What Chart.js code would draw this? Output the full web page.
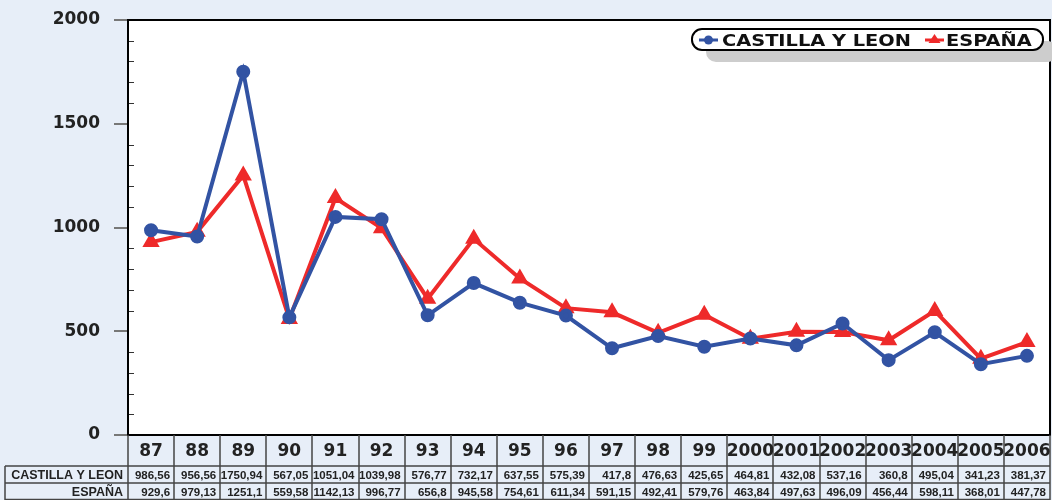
<!DOCTYPE html>
<html>
<head>
<meta charset="utf-8">
<script src="https://cdn.jsdelivr.net/npm/chart.js@4/dist/chart.umd.min.js"></script>
<style>
  html, body { margin: 0; padding: 0; background: #e7eef8; overflow: hidden; }
  #wrap { width: 1052px; height: 500px; position: relative; }
</style>
</head>
<body>
<div id="wrap"><canvas id="grafico"></canvas></div>
<script>
// Datos
const anios = ["87", "88", "89", "90", "91", "92", "93", "94", "95", "96", "97", "98", "99", "2000", "2001", "2002", "2003", "2004", "2005", "2006"];
const castillaLeon = [986.56, 956.56, 1750.94, 567.05, 1051.04, 1039.98, 576.77, 732.17, 637.55, 575.39, 417.8, 476.63, 425.65, 464.81, 432.08, 537.16, 360.8, 495.04, 341.23, 381.37];
const espana = [929.6, 979.13, 1251.1, 559.58, 1142.13, 996.77, 656.8, 945.58, 754.61, 611.34, 591.15, 492.41, 579.76, 463.84, 497.63, 496.09, 456.44, 598.11, 368.01, 447.78];
const ticksY = [0, 500, 1000, 1500, 2000];

const FUENTE = "'Liberation Sans', Arial, sans-serif";
const FUENTE_ANCHA = "'DejaVu Sans', Verdana, sans-serif";
const AZUL = "#3253a3";
const ROJO = "#ee2a2a";

// formato con coma decimal, como en la tabla original
function formato(v) {
  return String(v).replace(".", ",");
}

// texto estirado en horizontal (la leyenda original es muy ancha)
function textoAncho(ctx, txt, x, y, factor) {
  ctx.save();
  ctx.translate(x, y);
  ctx.scale(factor, 1);
  ctx.fillText(txt, 0, 0);
  ctx.restore();
}

// Marco del area, ticks menores, tabla de datos y leyenda
const extras = {
  id: "extras",
  beforeDraw(chart) {
    const area = chart.chartArea;
    const ctx = chart.ctx;
    ctx.save();
    ctx.fillStyle = "#fff";
    ctx.fillRect(area.left, area.top, area.right - area.left, area.bottom - area.top);
    ctx.restore();
  },
  afterDraw(chart) {
    const ctx = chart.ctx;
    const area = chart.chartArea;
    const x = chart.scales.x;
    const y = chart.scales.y;
    const ancho = (area.right - area.left) / anios.length;

    ctx.save();
    // ticks menores hacia dentro
    ctx.strokeStyle = "#333";
    ctx.lineWidth = 1;
    for (let v = 100; v < 2000; v += 100) {
      if (v % 500 === 0) continue;
      const py = Math.round(y.getPixelForValue(v)) + 0.5;
      ctx.beginPath();
      ctx.moveTo(area.left, py);
      ctx.lineTo(area.left + 6, py);
      ctx.stroke();
    }
    // marco
    ctx.strokeStyle = "#000";
    ctx.lineWidth = 2;
    ctx.strokeRect(area.left, area.top, area.right - area.left, area.bottom - area.top);

    // tabla
    const filaAnio = area.bottom;
    const fila1 = 466;
    const fila2 = 483;
    const fin = 500;
    ctx.strokeStyle = "#444";
    ctx.lineWidth = 1.5;
    ctx.beginPath();
    ctx.moveTo(5, fila1); ctx.lineTo(area.right, fila1);
    ctx.moveTo(5, fila2); ctx.lineTo(area.right, fila2);
    ctx.moveTo(5, fin - 0.5); ctx.lineTo(area.right, fin - 0.5);
    ctx.moveTo(5, fila1); ctx.lineTo(5, fin);
    ctx.stroke();
    for (let i = 0; i <= anios.length; i++) {
      const px = Math.round(area.left + i * ancho);
      ctx.beginPath();
      ctx.moveTo(px, filaAnio);
      ctx.lineTo(px, fin);
      ctx.stroke();
    }

    ctx.fillStyle = "#222";
    ctx.textBaseline = "middle";
    ctx.font = "bold 17px " + FUENTE_ANCHA;
    ctx.textAlign = "center";
    anios.forEach((a, i) => {
      ctx.fillText(a, x.getPixelForValue(i), filaAnio + 17);
    });
    ctx.font = "bold 12.5px " + FUENTE;
    ctx.textAlign = "right";
    ctx.fillText("CASTILLA Y LEON", area.left - 5, (fila1 + fila2) / 2 + 1);
    ctx.fillText("ESPAÑA", area.left - 5, (fila2 + fin) / 2 + 1);
    ctx.font = "bold 11.5px " + FUENTE;
    anios.forEach((a, i) => {
      const derecha = area.left + (i + 1) * ancho - 4;
      ctx.fillText(formato(castillaLeon[i]), derecha, (fila1 + fila2) / 2 + 1);
      ctx.fillText(formato(espana[i]), derecha, (fila2 + fin) / 2 + 1);
    });

    // leyenda
    const lx = 692, ly = 29, lw = 351, lh = 21, r = 10;
    ctx.fillStyle = "#cdcdcd";
    ctx.beginPath();
    ctx.roundRect(lx + 14, ly + 12, lw, lh, r);
    ctx.fill();
    ctx.fillStyle = "#fff";
    ctx.strokeStyle = "#000";
    ctx.lineWidth = 2;
    ctx.beginPath();
    ctx.roundRect(lx, ly, lw, lh, r);
    ctx.fill();
    ctx.stroke();

    const my = ly + lh / 2 + 0.5;
    ctx.strokeStyle = AZUL;
    ctx.lineWidth = 3;
    ctx.beginPath(); ctx.moveTo(699, my); ctx.lineTo(718, my); ctx.stroke();
    ctx.fillStyle = AZUL;
    ctx.beginPath(); ctx.arc(708.5, my, 4.5, 0, Math.PI * 2); ctx.fill();
    ctx.strokeStyle = ROJO;
    ctx.beginPath(); ctx.moveTo(925, my); ctx.lineTo(944, my); ctx.stroke();
    ctx.fillStyle = ROJO;
    ctx.beginPath();
    ctx.moveTo(934.5, my - 6); ctx.lineTo(940.5, my + 3); ctx.lineTo(928.5, my + 3);
    ctx.closePath(); ctx.fill();

    ctx.fillStyle = "#111";
    ctx.font = "bold 16px " + FUENTE_ANCHA;
    ctx.textAlign = "left";
    textoAncho(ctx, "CASTILLA Y LEON", 722, my + 1.5, 1.21);
    textoAncho(ctx, "ESPAÑA", 946, my + 1.5, 1.21);
    ctx.restore();
  },
};

new Chart(document.getElementById("grafico"), {
  type: "line",
  data: {
    labels: anios,
    datasets: [
      {
        label: "CASTILLA Y LEON",
        data: castillaLeon,
        borderColor: AZUL,
        backgroundColor: AZUL,
        borderWidth: 4,
        pointStyle: "circle",
        pointRadius: 5,
        tension: 0,
      },
      {
        label: "ESPAÑA",
        data: espana,
        borderColor: ROJO,
        backgroundColor: ROJO,
        borderWidth: 4,
        pointStyle: "triangle",
        pointRadius: 6,
        tension: 0,
      },
    ],
  },
  options: {
    responsive: true,
    maintainAspectRatio: false,
    animation: false,
    layout: { autoPadding: false, padding: { top: 20, right: 2, left: 0, bottom: 0 } },
    plugins: {
      legend: { display: false },
      tooltip: { enabled: false },
    },
    scales: {
      y: {
        min: 0,
        max: 2000,
        afterFit(scale) {
          scale.width = 128;
          scale.paddingTop = 0;
          scale.paddingBottom = 0;
        },
        afterBuildTicks(scale) { scale.ticks = ticksY.map((v) => ({ value: v })); },
        border: { display: true, color: "#000", width: 2 },
        grid: {
          drawOnChartArea: false,
          drawTicks: true,
          tickLength: 14,
          color: "#777",
          lineWidth: 2,
        },
        ticks: {
          padding: 14,
          color: "#222",
          callback: (v) => String(v),
          font: { size: 17, weight: "bold", family: FUENTE_ANCHA },
        },
      },
      x: {
        offset: true,
        afterFit(scale) { scale.height = 65; },
        border: { display: false },
        grid: { display: false },
        ticks: { display: false },
      },
    },
  },
  plugins: [extras],
});
</script>
</body>
</html>
